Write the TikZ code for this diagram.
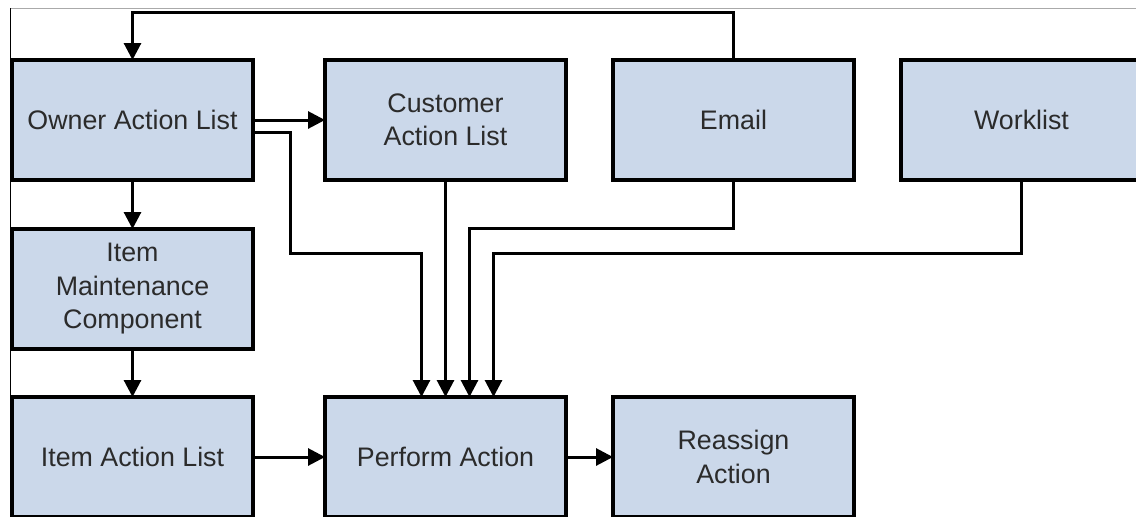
\documentclass[tikz,border=0pt]{standalone}
\usepackage{fontspec}
\setmainfont{Liberation Sans}
\usetikzlibrary{arrows.meta,positioning}
\definecolor{BoxBlue}{HTML}{CBD8EA}
\definecolor{InkGray}{HTML}{2B2B2B}
\definecolor{EdgeGray}{HTML}{AAAAAA}

\begin{document}
\begin{tikzpicture}[>=Triangle, node distance=47pt,
    box/.style={draw=black, line width=3.2pt, fill=BoxBlue, minimum width=241pt, minimum height=120pt,
      inner sep=0pt, outer sep=0pt, align=center, text=InkGray, font=\fontsize{26.8}{33.5}\selectfont},
    flow/.style={-{Triangle[length=17pt,width=17pt]}, line width=3pt}]
    \useasboundingbox (0,0) rectangle (1136pt,-517pt);
    % page frame of the screenshot
    \draw[EdgeGray, line width=1pt] (10pt,-8pt) -- (1136pt,-8pt);
    \draw[black, line width=1pt] (10pt,-8pt) -- (10pt,-517pt);

    \node[box] (owner) at (132.5pt,-120pt) {Owner Action List};
    \node[box, right=72pt of owner] (customer) {Customer\\Action List};
    \node[box, right=of customer] (email) {Email};
    \node[box, right=of email] (worklist) {Worklist};
    \node[box, below=49pt of owner] (maint) {Item\\Maintenance\\Component};
    \node[box, below=48pt of maint] (item) {Item Action List};
    \node[box, right=72pt of item] (perform) {Perform Action};
    \node[box, right=of perform] (reassign) {Reassign\\Action};

    % bus levels and inputs on top of perform
    \coordinate (highbus) at (0,-228pt);
    \coordinate (lowbus) at (0,-253pt);
    \coordinate (in1) at ([xshift=-24pt]perform.north);
    \coordinate (in3) at ([xshift=24pt]perform.north);
    \coordinate (in4) at ([xshift=48pt]perform.north);

    \draw[flow] (email.north) -- ++(0,47.5pt) -| (owner.north);
    \draw[flow] (owner.east) -- (customer.west);
    \draw[flow] (owner.south) -- (maint.north);
    \draw[flow] (maint.south) -- (item.north);
    \draw[flow] (item.east) -- (perform.west);
    \draw[flow] (perform.east) -- (reassign.west);
    \draw[flow] ([yshift=-12pt]owner.east) -- ++(37pt,0) |- (in1 |- lowbus) -- (in1);
    \draw[flow] (customer.south) -- (perform.north);
    \draw[flow] (email.south) |- (in3 |- highbus) -- (in3);
    \draw[flow] (worklist.south) |- (in4 |- lowbus) -- (in4);
  \end{tikzpicture}
\end{document}
